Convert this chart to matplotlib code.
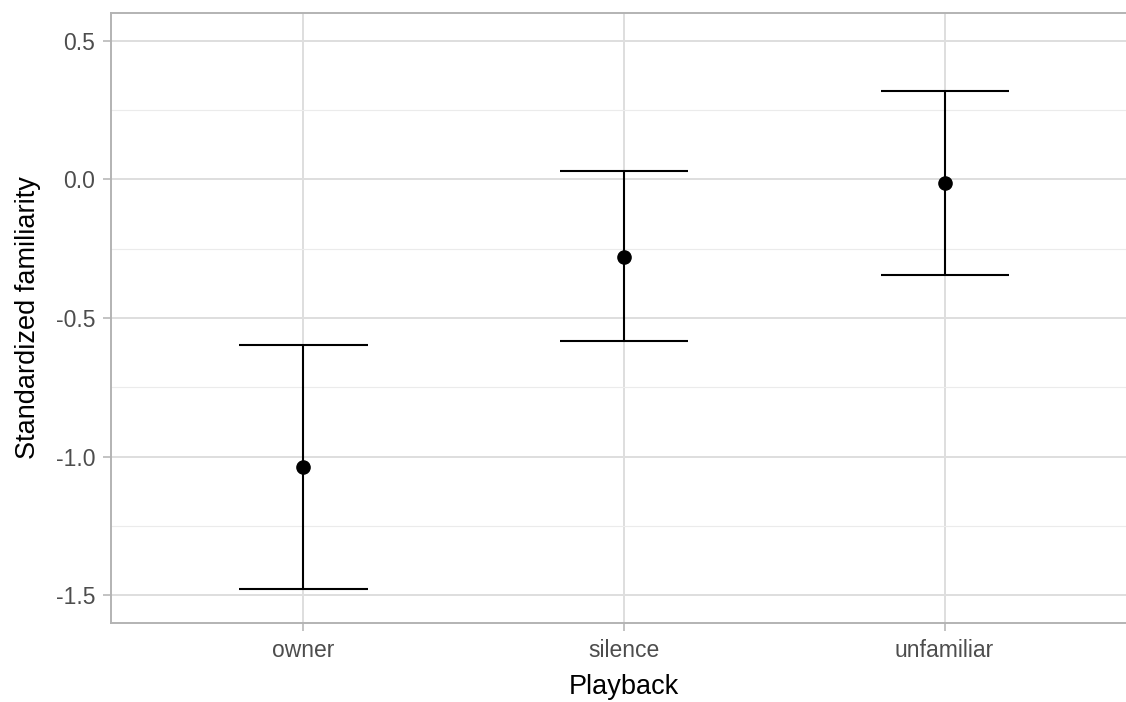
import matplotlib
matplotlib.use('Agg')
import matplotlib.pyplot as plt
from matplotlib.ticker import MultipleLocator

plt.rcParams['font.family'] = ['Liberation Sans', 'DejaVu Sans']

# estimated marginal means with 95% intervals per playback condition
playback = ['owner', 'silence', 'unfamiliar']
mean = [-1.038, -0.280, -0.013]
upper = [-0.598, 0.030, 0.319]
lower = [-1.479, -0.583, -0.345]

y_ticks = [-1.5, -1.0, -0.5, 0.0, 0.5]
y_tick_labels = ['-1.5', '-1.0', '-0.5', '0.0', '0.5']

fig = plt.figure(figsize=(11.26, 7.02), dpi=100)
# panel runs slightly past the right edge of the canvas
ax = fig.add_axes([111 / 1126, 1 - 623 / 702, 1026 / 1126, 610 / 702])

x = list(range(len(playback)))
cap_half = 0.2

ax.vlines(x, lower, upper, color='black', linewidth=1.5, zorder=3)
for xi, lo, hi in zip(x, lower, upper):
    ax.hlines([lo, hi], xi - cap_half, xi + cap_half, color='black', linewidth=1.5, zorder=3)
ax.plot(x, mean, 'o', color='black', markersize=9.5, zorder=4)

ax.set_xlim(-0.6, 2.6)
ax.set_ylim(-1.6, 0.6)
ax.set_xticks(x)
ax.set_xticklabels(playback)
ax.set_yticks(y_ticks)
ax.set_yticklabels(y_tick_labels)
ax.yaxis.set_minor_locator(MultipleLocator(0.25))

ax.grid(which='major', color='#DEDEDE', linewidth=1.4, zorder=0)
ax.grid(which='minor', axis='y', color='#EBEBEB', linewidth=0.8, zorder=0)
ax.set_axisbelow(True)

for sp in ax.spines.values():
    sp.set_color('#B3B3B3')
    sp.set_linewidth(1.4)
ax.spines['right'].set_visible(False)

ax.tick_params(which='major', length=5.5, width=1.1, color='#B3B3B3',
               labelcolor='#4D4D4D', labelsize=16.5)
ax.tick_params(axis='y', pad=6)
ax.tick_params(axis='x', pad=6)
ax.tick_params(which='minor', length=0)

ax.set_xlabel('Playback', fontsize=19.5, color='black')
ax.set_ylabel('Standardized familiarity', fontsize=19.5, color='black')
ax.xaxis.set_label_coords(0.5, -0.084)
ax.yaxis.set_label_coords(-0.068, 0.5)

fig.savefig('out.png', dpi=100, facecolor='white')
